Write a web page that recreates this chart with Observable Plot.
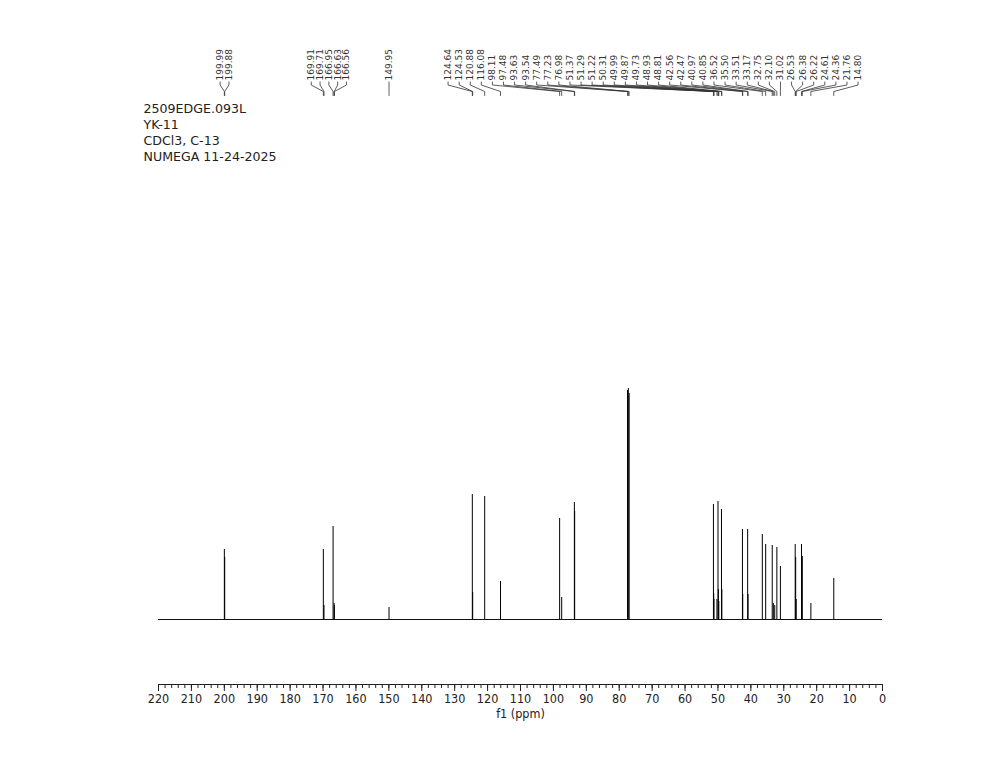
<!DOCTYPE html>
<html><head><meta charset="utf-8">
<script src="https://cdn.jsdelivr.net/npm/d3@7"></script>
<script src="https://cdn.jsdelivr.net/npm/@observablehq/plot@0.6"></script>
<style>html,body{margin:0;padding:0;background:#fff}</style>
</head><body><div id="chart"></div>
<script>
// ---- data ----
const headerLines = ["2509EDGE.093L", "YK-11", "CDCl3, C-13", "NUMEGA 11-24-2025"];
const peakShifts = [199.99,199.88,169.91,169.71,166.95,166.63,166.56,149.95,
  124.64,124.53,120.88,116.08,98.11,97.48,93.63,93.54,77.49,77.23,76.98,
  51.37,51.29,51.22,50.31,49.99,49.87,49.73,48.93,48.81,42.56,42.47,40.97,40.85,
  36.52,35.50,33.51,33.17,32.75,32.10,31.02,26.53,26.38,26.22,24.61,24.36,21.76,14.80];
const peakHeights = [70,62,70,14,93,16,14,12,
  125,27,123,38,101,22,117,108,229,231,226,
  115,26,20,20,118,30,18,110,30,90,25,90,25,
  85,75,74,16,14,72,53,75,62,20,75,63,16,41];
const xTicks = [220,210,200,190,180,170,160,150,140,130,120,110,100,90,80,70,60,50,40,30,20,10,0];
const xLabel = "f1 (ppm)";

// ---- layout ----
const W = 1000, H = 773, mL = 158, mR = 118, mT = 100, mB = 89;
const xDomain = [220, 0];
const yDomain = [-65, 519];
const minorStep = 2;
const minorTicks = d3.range(0, 220 + 1e-9, minorStep);
const xs = Plot.scale({x: {domain: xDomain, range: [mL, W - mR]}});
const ys = Plot.scale({y: {domain: yDomain, range: [H - mB, mT]}});
const font = "'DejaVu Sans Condensed', 'Liberation Sans', Arial, sans-serif";
const headerFont = "'DejaVu Sans', Verdana, sans-serif";

// label de-overlap (clusters centred on the span of their peaks)
const pitch = n => n > 8 ? 11.08 : 8.8;
function place(c) {
  const ps = c.idx.map(i => xs.apply(peakShifts[i]));
  const mid = (Math.min(...ps) + Math.max(...ps)) / 2;
  c.s = pitch(c.idx.length);
  c.pos = c.idx.map((_, k) => mid + (k - (c.idx.length - 1) / 2) * c.s);
}
let clusters = peakShifts.map((p, i) => ({idx: [i]}));
clusters.forEach(place);
let merged = true;
while (merged) {
  merged = false;
  for (let j = 0; j < clusters.length - 1; j++) {
    const a = clusters[j], b = clusters[j + 1];
    if (b.pos[0] - a.pos[a.pos.length - 1] < Math.max(a.s, b.s)) {
      const c = {idx: a.idx.concat(b.idx)};
      place(c);
      clusters.splice(j, 2, c);
      merged = true;
      break;
    }
  }
}
const labelPx = new Array(peakShifts.length);
clusters.forEach(c => c.idx.forEach((i, k) => labelPx[i] = c.pos[k]));
const labelPpm = labelPx.map(p => xs.invert(p));

const idx = d3.range(peakShifts.length);
const yText = ys.invert(80), yA = ys.invert(81.5), yB = ys.invert(84.5), yC = ys.invert(91), yD = ys.invert(95);
const connectors = idx.flatMap(i => [
  {i, x: labelPpm[i], y: yA}, {i, x: labelPpm[i], y: yB},
  {i, x: peakShifts[i], y: yC}, {i, x: peakShifts[i], y: yD}
]);

const chart = Plot.plot({
  width: W, height: H,
  marginLeft: mL, marginRight: mR, marginTop: mT, marginBottom: mB,
  x: {domain: xDomain, axis: null},
  y: {domain: yDomain, axis: null},
  style: {fontFamily: font, color: "#222", background: "#fff", overflow: "visible"},
  marks: [
    // baseline of the spectrum
    Plot.ruleY([0], {x1: () => xDomain[0], x2: () => xDomain[1], stroke: "#111", strokeWidth: 1}),
    // peaks
    Plot.ruleX(idx, {x: i => peakShifts[i], y1: () => 0, y2: i => peakHeights[i], stroke: "#000", strokeWidth: 1}),
    // axis
    Plot.ruleY([yDomain[0]], {stroke: "#222", strokeWidth: 1}),
    Plot.axisX({ticks: minorTicks, tickSize: 4, tickFormat: () => "", label: null, stroke: "#222"}),
    Plot.axisX({ticks: xTicks, tickSize: 7, tickPadding: 3, fontSize: 12.5, label: null, stroke: "#222", fill: "#222"}),
    Plot.text([xLabel], {frameAnchor: "bottom", dy: 29, fontSize: 12.5, lineAnchor: "middle", fill: "#222"}),
    // header
    Plot.text([headerLines.join("\n")], {frameAnchor: "top-left", dx: -15, dy: 1, lineAnchor: "top", lineHeight: 1.27, fontSize: 12.6, textAnchor: "start", fill: "#222", fontFamily: headerFont}),
    // peak labels + connectors
    Plot.line(connectors, {x: "x", y: "y", z: "i", stroke: "#333", strokeWidth: 0.8}),
    Plot.text(idx, {x: i => labelPpm[i], y: () => yText, text: i => peakShifts[i].toFixed(2), rotate: -90, textAnchor: "start", lineAnchor: "middle", fontSize: 9, fill: "#333", fontFamily: headerFont})
  ]
});
document.getElementById("chart").appendChild(chart);
</script>
</body></html>
